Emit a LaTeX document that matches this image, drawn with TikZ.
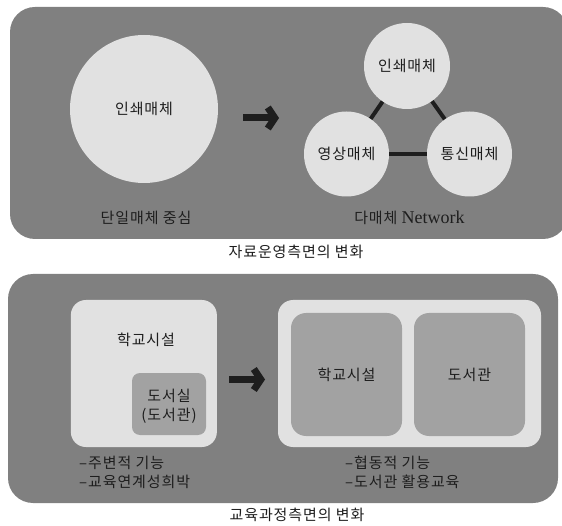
\documentclass[tikz,border=0pt]{standalone}
\usepackage{fontspec}
\setmainfont{Liberation Serif}
\newfontfamily\krfont[LetterSpace=6]{Noto Sans CJK KR}
\usetikzlibrary{arrows.meta}
\definecolor{panelgray}{HTML}{808080}
\definecolor{discgray}{HTML}{E1E1E1}
\definecolor{tilegray}{HTML}{A2A2A2}
\definecolor{inkgray}{HTML}{1E1E1E}
\tikzset{
  panel/.style={fill=panelgray, rounded corners=25pt},
  disc/.style={circle, fill=discgray, inner sep=0pt, text=inkgray,
    font=\krfont\fontsize{15}{17}\selectfont},
  label kr/.style={text=inkgray, inner sep=0pt,
    font=\krfont\fontsize{15}{19}\selectfont},
  outerbox/.style={fill=discgray, rounded corners=15pt, inner sep=0pt},
  tile/.style={fill=tilegray, rounded corners=15pt, inner sep=0pt},
  bigarrow/.style={inkgray, line width=7pt, -{Straight Barb[length=7pt, width=21pt]}},
  tie/.style={inkgray, line width=4pt}
}
\begin{document}
\begin{tikzpicture}[x=1pt, y=-1pt]
  \useasboundingbox (0,0) rectangle (562,526);
  \fill[panel] (10,7) rectangle (568,239);
  \fill[panel] (8,274) rectangle (558,503);

  \node[disc, minimum size=148pt] (single) at (144,109) {인쇄매체};
  \node[label kr] (singlecap) at (146,218) {단일매체 중심};
  \coordinate (arrA) at (243,118);
  \coordinate (arrB) at (279,118);
  \draw[bigarrow] (arrA) -- (arrB);
  \draw
    (407,66) node[disc, minimum size=86pt] (print) {인쇄매체}
    (346.5,154) node[disc, minimum size=85pt] (video) {영상매체}
    (469.5,154) node[disc, minimum size=85pt] (comm) {통신매체};
  \begin{scope}[tie]
    \draw (video) to (print);
    \draw (print) to (comm);
    \draw (video) to (comm);
  \end{scope}
  \node[label kr] (multicap) at (409.5,218) {다매체 {\rmfamily\fontsize{18}{20}\selectfont Network}};
  \node[label kr] (cap1) at (296,252) {자료운영측면의 변화};

  \node[outerbox, minimum width=146pt, minimum height=147pt] (school) at (143.85,373.5) {};
  \node[label kr] (schooltxt) at (146,340) {학교시설};
  \node[tile, rounded corners=8pt, minimum width=74pt, minimum height=62pt] (room) at (169,404) {};
  \node[label kr, align=center] (roomtxt) at (169,406) {도서실\\(도서관)};
  \coordinate (arrC) at (229,379.5);
  \coordinate (arrD) at (265,379.5);
  \draw[bigarrow] (arrC) -- (arrD);
  \node[outerbox, minimum width=263pt, minimum height=147pt] (joint) at (409.5,373.5) {};
  \node[tile, minimum width=111pt, minimum height=123pt] (jschool) at (346.5,374.5) {};
  \node[tile, minimum width=111pt, minimum height=123pt] (jlib) at (469.5,374.5) {};
  \node[label kr] at (jschool) {학교시설};
  \node[label kr] at (jlib) {도서관};
  \node[label kr, align=left, anchor=west] (leftnote) at (79,472.5) {–주변적 기능\\–교육연계성희박};
  \node[label kr, align=left, anchor=west] (rightnote) at (345,472.5) {–협동적 기능\\–도서관 활용교육};
  \node[label kr] (cap2) at (297,515) {교육과정측면의 변화};
\end{tikzpicture}
\end{document}
